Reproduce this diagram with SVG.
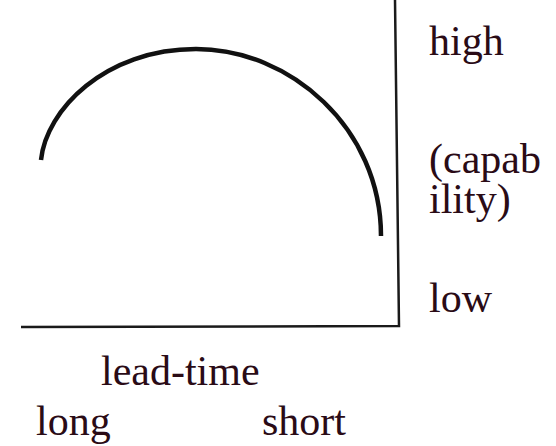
<svg xmlns="http://www.w3.org/2000/svg" width="556" height="446" viewBox="0 0 556 446">
<style>
.t{font-family:"Liberation Serif","Times New Roman",serif;font-size:42px;fill:#2a0b16}
.ax{stroke:#1a1a1a;stroke-width:2.5;fill:none}
.cv{stroke:#111;stroke-width:4.5;fill:none;stroke-linecap:butt}
</style>
<rect width="556" height="446" fill="#ffffff"/>
<g id="connectors">
<path class="ax" d="M395,0 L399,326 L21,327"/>
<path class="cv" d="M41,160 C46,110 105,49 196,49 C290,49 381,128 381,236"/>
</g>
<g id="label-high"><text class="t" x="429" y="55">high</text></g>
<g id="label-capability"><text class="t"><tspan x="429" y="173">(capab</tspan><tspan x="429" y="213">ility)</tspan></text></g>
<g id="label-low"><text class="t" x="429" y="312">low</text></g>
<g id="label-leadtime"><text class="t" x="101" y="385">lead-time</text></g>
<g id="label-long"><text class="t" x="36" y="435">long</text></g>
<g id="label-short"><text class="t" x="262" y="435">short</text></g>
</svg>
